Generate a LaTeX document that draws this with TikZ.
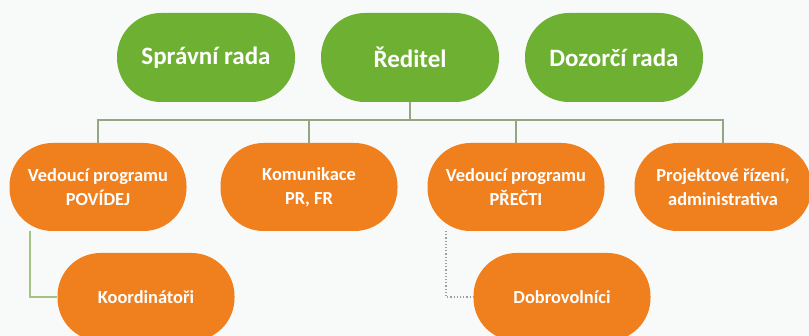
\documentclass[tikz,border=0pt]{standalone}
\usepackage{fontspec}
\setmainfont{Carlito}
\definecolor{grn}{RGB}{110,176,50}
\definecolor{org}{RGB}{240,128,30}
\definecolor{lnA}{RGB}{150,165,130}
\definecolor{lnB}{RGB}{165,195,130}
\definecolor{lnC}{RGB}{150,158,168}
\definecolor{bgc}{RGB}{248,250,250}
\tikzset{
  topbox/.style={draw=none, fill=grn, text=white, minimum width=178pt, minimum height=89pt,
    rounded corners=44pt, inner sep=0pt, align=center, font=\bfseries\fontsize{25}{29}\selectfont},
  subbox/.style={draw=none, fill=org, text=white, minimum width=177pt, minimum height=88pt,
    rounded corners=43pt, inner sep=0pt, align=center, font=\bfseries\fontsize{18.4}{24}\selectfont},
  conn/.style={draw=lnA, line width=1.3pt},
  connB/.style={draw=lnB, line width=1.5pt},
  connC/.style={draw=lnC, line width=1.2pt, dotted}
}
\begin{document}
\begin{tikzpicture}[x=1pt, y=-1pt]
\useasboundingbox (0,0) rectangle (809,336);
\clip (0,0) rectangle (809,336);
\fill[bgc] (0,0) rectangle (809,336);
% top row
\node[topbox] (spr) at (206,57.5) {Správní rada};
\node[topbox] (red) at (410,57.5) {Ředitel};
\node[topbox] (doz) at (614,57.5) {Dozorčí rada};
% second row
\node[subbox] (pov) at (98,187) {Vedoucí programu\\POVÍDEJ};
\node[subbox] (kom) at (309,187) {Komunikace\\PR, FR};
\node[subbox] (pre) at (516,187) {Vedoucí programu\\PŘEČTI};
\node[subbox] (pro) at (723,187) {Projektové řízení,\\administrativa};
% third row
\node[subbox] (koo) at (146,297) {Koordinátoři};
\node[subbox] (dob) at (562,297) {Dobrovolníci};
% connectors
\coordinate (hub) at (410,120);
\draw[conn] (red.south) -- (hub);
\draw[conn] (pov.north) |- (hub);
\draw[conn] (kom.north) |- (hub);
\draw[conn] (pre.north) |- (hub);
\draw[conn] (pro.north) |- (hub);
\coordinate (kA) at (30,231);
\coordinate (dA) at (446,231);
\draw[connB] (kA) |- (koo.west);
\draw[connC] (dA) |- (dob.west);
\end{tikzpicture}
\end{document}
